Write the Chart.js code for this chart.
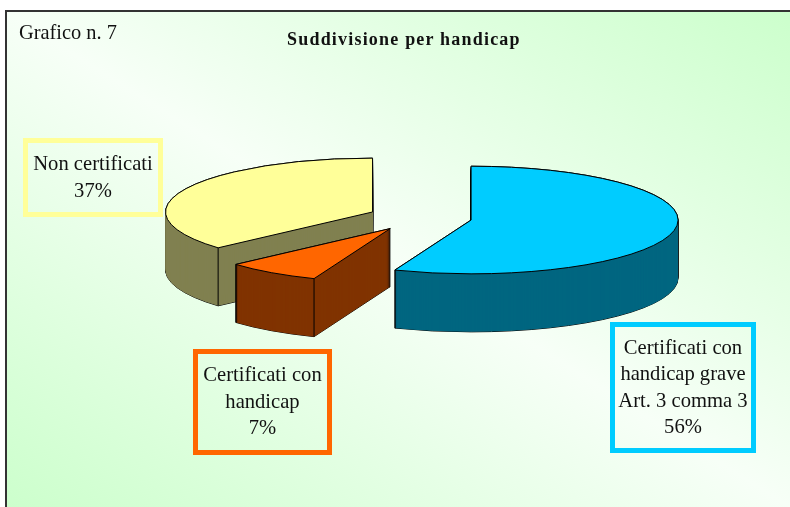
<!DOCTYPE html>
<html lang="it">
<head>
<meta charset="utf-8">
<title>Suddivisione per handicap</title>
<script src="https://cdn.jsdelivr.net/npm/chart.js@4/dist/chart.umd.min.js"></script>
<style>
html,body{margin:0;padding:0;background:#fff;overflow:hidden}
#stage{position:relative;width:790px;height:507px;overflow:hidden;font-family:"Liberation Serif",serif;color:#111}
#frame{position:absolute;left:5px;top:10px;width:785px;height:497px;box-sizing:border-box;border-left:2px solid #333;border-top:2px solid #333;
background:linear-gradient(to top right,#ccffcc 0%,#f7fff7 50%,#ccffcc 100%)}
canvas{position:absolute;left:0;top:0}
.t{position:absolute;white-space:nowrap}
#num{left:19px;top:20px;font-size:20.4px;line-height:24px}
#ttl{left:287px;top:28px;font-size:18px;line-height:22px;font-weight:bold;letter-spacing:1.2px}
.lab{position:absolute;box-sizing:border-box;border-style:solid;border-width:5px;padding-bottom:2px;display:flex;align-items:center;justify-content:center;text-align:center;font-size:20.6px;line-height:26.5px;white-space:pre-line}
</style>
</head>
<body>
<div id="stage">
<div id="frame"></div>
<canvas id="c" width="790" height="507"></canvas>
<div class="t" id="num">Grafico n. 7</div>
<div class="t" id="ttl">Suddivisione per handicap</div>
<div class="lab" id="l0" style="left:610px;top:322px;width:146px;height:131px"></div>
<div class="lab" id="l1" style="left:193px;top:349px;width:139px;height:106px"></div>
<div class="lab" id="l2" style="left:23px;top:138px;width:140px;height:79px"></div>
</div>
<script>
const categories = ["Certificati con\nhandicap grave\nArt. 3 comma 3", "Certificati con\nhandicap", "Non certificati"];
const values = [56, 7.4, 36.6];
const topColors = ["#00CCFF", "#FF6600", "#FFFF99"];
const sideColors = ["#006680", "#803300", "#808050"];

const TILT = 0.26, DEPTH = 58, EXPLODE = 52, RADIUS = 207;

categories.forEach((name, i) => {
  const el = document.getElementById("l" + i);
  el.textContent = name + "\n" + Math.round(values[i]) + "%";
  el.style.borderColor = topColors[i];
});

const pie3d = {
  id: "pie3d",
  beforeDatasetDraw(chart, args) {
    const ctx = chart.ctx;
    const arcs = args.meta.data.map((arc, index) => {
      const p = arc.getProps(["x", "y", "startAngle", "endAngle", "outerRadius"], true);
      const mid = (p.startAngle + p.endAngle) / 2;
      return {index, mid, s: p.startAngle, e: p.endAngle, r: p.outerRadius,
        cx: p.x + Math.cos(mid) * EXPLODE, cy: p.y + Math.sin(mid) * EXPLODE * TILT};
    }).sort((a, b) => Math.sin(a.mid) - Math.sin(b.mid));

    const path = (a, off) => {
      ctx.beginPath();
      ctx.moveTo(a.cx, a.cy + off);
      ctx.ellipse(a.cx, a.cy + off, a.r, a.r * TILT, 0, a.s, a.e);
      ctx.closePath();
    };
    ctx.save();
    ctx.lineJoin = "round";
    ctx.strokeStyle = "#000";
    ctx.lineWidth = 1;
    arcs.forEach(a => {
      for (let d = DEPTH; d >= 0; d--) { path(a, d); ctx.stroke(); }
      ctx.fillStyle = sideColors[a.index];
      for (let d = DEPTH; d >= 0; d--) { path(a, d); ctx.fill(); }
      [a.s, a.e].forEach(t => {
        if (Math.sin(t) > 0) {
          const x = a.cx + Math.cos(t) * a.r, y = a.cy + Math.sin(t) * a.r * TILT;
          ctx.beginPath(); ctx.moveTo(x, y); ctx.lineTo(x, y + DEPTH); ctx.stroke();
        }
      });
      path(a, 0);
      ctx.fillStyle = topColors[a.index];
      ctx.fill();
      ctx.stroke();
    });
    ctx.restore();
    return false;
  }
};

new Chart(document.getElementById("c"), {
  type: "pie",
  data: {
    labels: categories.map(s => s.replace(/\n/g, " ")),
    datasets: [{ data: values, backgroundColor: topColors, borderWidth: 0 }]
  },
  options: {
    responsive: false,
    animation: false,
    radius: RADIUS,
    layout: { padding: { left: 50, bottom: 72 } },
    plugins: { legend: { display: false }, tooltip: { enabled: false }, title: { display: false } }
  },
  plugins: [pie3d]
});
</script>
</body>
</html>
